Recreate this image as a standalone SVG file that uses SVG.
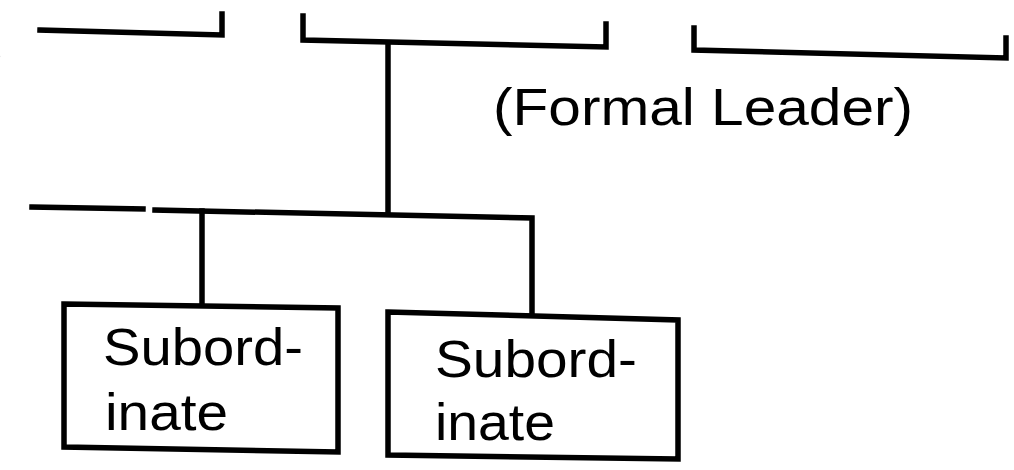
<svg xmlns="http://www.w3.org/2000/svg" width="1014" height="470" viewBox="0 0 1014 470">
<style>
.ln{fill:none;stroke:#000;stroke-width:5.5;stroke-linecap:square;stroke-linejoin:miter}
.bx{fill:#fff;stroke:#000;stroke-width:5.5}
.t{font-family:"Liberation Sans",Arial,sans-serif;font-size:52px;fill:#000}
</style>
<rect width="1014" height="470" fill="#fff"/>
<g id="connectors">
<polyline class="ln" points="40,30 222,35 222,14"/>
<polyline class="ln" points="303,16 303,40 606,47 606,24"/>
<polyline class="ln" points="694,28 694,50 1006,58 1006,38"/>
<line class="ln" x1="388" y1="43" x2="388" y2="213"/>
<line class="ln" x1="32" y1="207" x2="143" y2="209"/>
<polyline class="ln" points="155,210 532,218 532,312"/>
<line class="ln" x1="202" y1="211" x2="202" y2="303"/>
</g>
<g id="fragment-left">
<text class="t" x="-14" y="70">)</text>
</g>
<g id="formal-leader">
<text class="t" x="493" y="125" font-size="54" textLength="420" lengthAdjust="spacingAndGlyphs">(Formal Leader)</text>
</g>
<g id="subordinate-1">
<polygon class="bx" points="64,304 338,308 338,452 64,447"/>
<text class="t" x="103" y="365" textLength="200" lengthAdjust="spacingAndGlyphs">Subord-</text>
<text class="t" x="105" y="430" textLength="123" lengthAdjust="spacingAndGlyphs">inate</text>
</g>
<g id="subordinate-2">
<polygon class="bx" points="388,312 678,320 678,459 388,455"/>
<text class="t" x="435" y="377" textLength="202" lengthAdjust="spacingAndGlyphs">Subord-</text>
<text class="t" x="435" y="440" textLength="120" lengthAdjust="spacingAndGlyphs">inate</text>
</g>
</svg>
